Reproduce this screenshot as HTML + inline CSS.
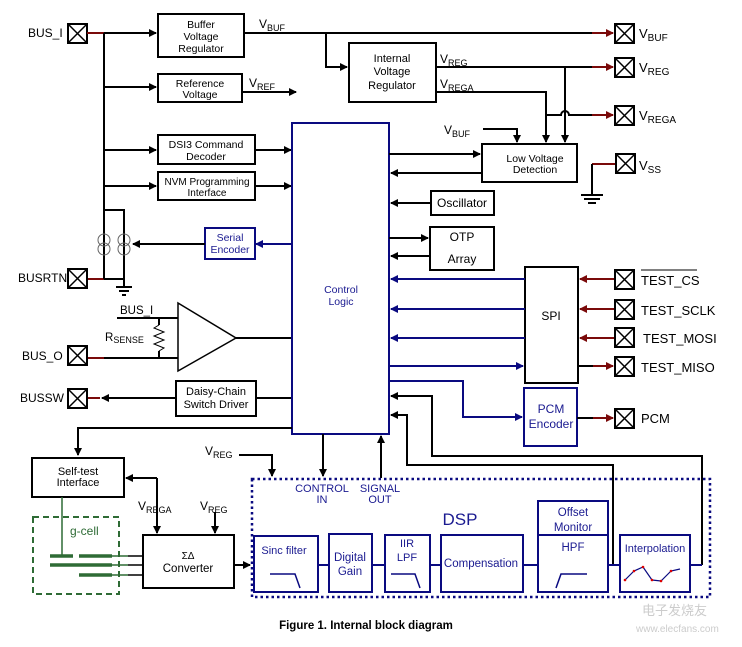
<!DOCTYPE html>
<html><head><meta charset="utf-8"><style>
body{margin:0;background:#fff}
svg{display:block;font-family:"Liberation Sans",Arial,sans-serif}
.k{stroke:#000;stroke-width:2;fill:none}
.b{stroke:#0a0a80;stroke-width:2;fill:none}
.r{stroke:#7a0a0a;stroke-width:2;fill:none}
.bx{stroke:#000;stroke-width:2;fill:#fff}
.bb{stroke:#0a0a80;stroke-width:2;fill:#fff}
.bt{fill:#1a1a90}
</style></head><body>
<svg width="742" height="647" viewBox="0 0 742 647" font-size="11">
<defs>
<marker id="ak" markerWidth="8" markerHeight="8" refX="7" refY="4" orient="auto" markerUnits="userSpaceOnUse"><path d="M0,0L8,4L0,8z" fill="#000"/></marker>
<marker id="ab" markerWidth="8" markerHeight="8" refX="7" refY="4" orient="auto" markerUnits="userSpaceOnUse"><path d="M0,0L8,4L0,8z" fill="#0a0a80"/></marker>
<marker id="ar" markerWidth="8" markerHeight="8" refX="7" refY="4" orient="auto" markerUnits="userSpaceOnUse"><path d="M0,0L8,4L0,8z" fill="#7a0a0a"/></marker>
<g id="pad"><rect x="0" y="0" width="19" height="19" fill="#fff" stroke="#000" stroke-width="2"/><path d="M0,0L19,19M19,0L0,19" stroke="#000" stroke-width="1.5"/></g>
</defs>

<use href="#pad" x="68" y="24"/><text x="28" y="37" font-size="12">BUS_I</text>
<use href="#pad" x="68" y="269"/><text x="18" y="282" font-size="12">BUSRTN</text>
<use href="#pad" x="68" y="346"/><text x="22" y="360" font-size="12">BUS_O</text>
<use href="#pad" x="68" y="389"/><text x="20" y="402" font-size="12">BUSSW</text>
<path class="r" d="M87,33H104M88,279H104M88,358H104M88,398H100"/>
<path class="k" d="M104,33V279M104,33H156" marker-end="url(#ak)"/>
<path class="k" d="M104,87H156" marker-end="url(#ak)"/>
<path class="k" d="M104,150H156" marker-end="url(#ak)"/>
<path class="k" d="M104,186H156" marker-end="url(#ak)"/>
<path class="k" d="M104,210H124V287M104,279H124"/>
<path class="k" d="M116,287H132M119,291H129M122,295H126"/>
<g stroke="#666" stroke-width="1" fill="none"><circle cx="104" cy="240" r="6"/><circle cx="104" cy="249" r="6"/><circle cx="124" cy="240" r="6"/><circle cx="124" cy="249" r="6"/></g>

<rect class="bx" x="158" y="14" width="86" height="43"/>
<text x="201" y="28" text-anchor="middle" font-size="10.5">Buffer</text><text x="201" y="40" text-anchor="middle" font-size="10.5">Voltage</text><text x="201" y="52" text-anchor="middle" font-size="10.5">Regulator</text>
<rect class="bx" x="158" y="74" width="84" height="28"/>
<text x="200" y="87" text-anchor="middle" font-size="10.5">Reference</text><text x="200" y="98" text-anchor="middle" font-size="10.5">Voltage</text>
<path class="k" d="M242,92H296" marker-end="url(#ak)"/><text x="249" y="87" font-size="12">V<tspan font-size="9" dy="3">REF</tspan></text>
<rect class="bx" x="158" y="135" width="97" height="29"/>
<text x="206" y="148" text-anchor="middle" font-size="10.5">DSI3 Command</text><text x="206" y="160" text-anchor="middle" font-size="10.5">Decoder</text>
<rect class="bx" x="158" y="172" width="97" height="28"/>
<text x="207" y="185" text-anchor="middle" font-size="10">NVM Programming</text><text x="207" y="196" text-anchor="middle" font-size="10">Interface</text>
<path class="k" d="M255,150H291" marker-end="url(#ak)"/>
<path class="k" d="M255,186H291" marker-end="url(#ak)"/>
<rect class="bb" x="205" y="228" width="50" height="31"/>
<text x="230" y="241" text-anchor="middle" class="bt" font-size="10.5">Serial</text><text x="230" y="253" text-anchor="middle" class="bt" font-size="10.5">Encoder</text>
<path class="b" d="M292,244H256" marker-end="url(#ab)"/>
<path class="k" d="M205,244H133" marker-end="url(#ak)"/>

<path class="k" d="M117,318H178M104,358H178M159,318V325M159,351V358" />
<path d="M159,325l-5,3l10,4l-10,4l10,4l-10,4l10,4l-5,3" stroke="#000" stroke-width="1" fill="none"/>
<path d="M178,303L236,338L178,371Z" fill="#fff" stroke="#000" stroke-width="1.5"/>
<path class="k" d="M236,338H292"/>
<text x="120" y="314" font-size="11.5">BUS_I</text>
<text x="105" y="341" font-size="11.5">R<tspan font-size="9" dy="2">SENSE</tspan></text>

<rect class="bx" x="176" y="381" width="80" height="35"/>
<text x="216" y="395" text-anchor="middle" font-size="11">Daisy-Chain</text><text x="216" y="408" text-anchor="middle" font-size="11">Switch Driver</text>
<path class="k" d="M292,398H256M176,398H102" marker-end="url(#ak)"/>

<rect class="bb" x="292" y="123" width="97" height="311"/>
<text x="341" y="293" text-anchor="middle" class="bt" font-size="10.5">Control</text><text x="341" y="305" text-anchor="middle" class="bt" font-size="10.5">Logic</text>

<path class="k" d="M244,33H594M326,33V67H347" marker-end="url(#ak)"/>
<path class="r" d="M592,33H613" marker-end="url(#ar)"/>
<text x="259" y="28" font-size="12">V<tspan font-size="9" dy="3">BUF</tspan></text>
<rect class="bx" x="349" y="43" width="87" height="59"/>
<text x="392" y="62" text-anchor="middle" font-size="11">Internal</text><text x="392" y="75" text-anchor="middle" font-size="11">Voltage</text><text x="392" y="89" text-anchor="middle" font-size="11">Regulator</text>
<path class="k" d="M436,67H594M565,67V142" marker-end="url(#ak)"/>
<path class="r" d="M592,67H613" marker-end="url(#ar)"/>
<text x="440" y="63" font-size="12">V<tspan font-size="9" dy="3">REG</tspan></text>
<path class="k" d="M436,92H546V142" marker-end="url(#ak)"/>
<text x="440" y="88" font-size="12">V<tspan font-size="9" dy="3">REGA</tspan></text>
<path class="k" d="M546,115H561a4,4 0 0 1 8,0H594"/>
<path class="r" d="M592,115H613" marker-end="url(#ar)"/>
<use href="#pad" x="615" y="24"/><text x="639" y="38" font-size="13">V<tspan font-size="10" dy="3">BUF</tspan></text>
<use href="#pad" x="615" y="58"/><text x="639" y="72" font-size="13">V<tspan font-size="10" dy="3">REG</tspan></text>
<use href="#pad" x="615" y="106"/><text x="639" y="120" font-size="13">V<tspan font-size="10" dy="3">REGA</tspan></text>
<path class="k" d="M483,129H517V142" marker-end="url(#ak)"/>
<text x="444" y="134" font-size="12">V<tspan font-size="9" dy="3">BUF</tspan></text>
<rect class="bx" x="482" y="144" width="95" height="38"/>
<text x="535" y="162" text-anchor="middle" font-size="10.5">Low Voltage</text><text x="535" y="173" text-anchor="middle" font-size="10.5">Detection</text>
<path class="k" d="M389,154H480" marker-end="url(#ak)"/>
<path class="k" d="M482,173H391" marker-end="url(#ak)"/>
<use href="#pad" x="616" y="154"/><text x="639" y="170" font-size="13">V<tspan font-size="10" dy="3">SS</tspan></text>
<path class="r" d="M615,164H592"/><path class="k" d="M592,164V195M581,195H603M584,199H600M588,203H596"/>
<rect class="bx" x="431" y="191" width="63" height="24"/><text x="462" y="207" text-anchor="middle" font-size="12">Oscillator</text>
<path class="k" d="M431,203H391" marker-end="url(#ak)"/>
<rect class="bx" x="430" y="227" width="64" height="43"/><text x="462" y="241" text-anchor="middle" font-size="12">OTP</text><text x="462" y="263" text-anchor="middle" font-size="12">Array</text>
<path class="k" d="M389,238H428" marker-end="url(#ak)"/>
<path class="k" d="M430,256H391" marker-end="url(#ak)"/>

<rect class="bx" x="525" y="267" width="53" height="116"/><text x="551" y="320" text-anchor="middle" font-size="12">SPI</text>
<path class="b" d="M525,279H391" marker-end="url(#ab)"/>
<path class="b" d="M525,309H391" marker-end="url(#ab)"/>
<path class="b" d="M525,338H391" marker-end="url(#ab)"/>
<path class="b" d="M389,366H523" marker-end="url(#ab)"/>
<path class="r" d="M615,279H580" marker-end="url(#ar)"/>
<path class="r" d="M615,309H580" marker-end="url(#ar)"/>
<path class="r" d="M615,338H580" marker-end="url(#ar)"/>
<path class="k" d="M578,366H595"/><path class="r" d="M593,366H613" marker-end="url(#ar)"/>
<use href="#pad" x="615" y="270"/><text x="641" y="285" font-size="13">TEST_CS</text><path d="M641,270H697" stroke="#000" stroke-width="1"/>
<use href="#pad" x="615" y="300"/><text x="641" y="315" font-size="13">TEST_SCLK</text>
<use href="#pad" x="615" y="328"/><text x="643" y="343" font-size="13">TEST_MOSI</text>
<use href="#pad" x="615" y="357"/><text x="641" y="372" font-size="13">TEST_MISO</text>
<path class="b" d="M389,381H463V417H522" marker-end="url(#ab)"/>
<rect class="bb" x="524" y="388" width="53" height="58"/>
<text x="551" y="413" text-anchor="middle" class="bt" font-size="12">PCM</text><text x="551" y="428" text-anchor="middle" class="bt" font-size="12">Encoder</text>
<path class="k" d="M577,418H595"/><path class="r" d="M593,418H613" marker-end="url(#ar)"/>
<use href="#pad" x="615" y="409"/><text x="641" y="423" font-size="13">PCM</text>
<path class="k" d="M613,565V465H407V415H391" marker-end="url(#ak)"/>
<path class="k" d="M702,565V456H432V396H391" marker-end="url(#ak)"/>
<path class="k" d="M292,428H78V455" marker-end="url(#ak)"/>
<path class="k" d="M323,434V476" marker-end="url(#ak)"/>
<path class="k" d="M381,478V436" marker-end="url(#ak)"/>
<path class="k" d="M239,455H272V476" marker-end="url(#ak)"/>
<text x="205" y="455" font-size="12">V<tspan font-size="9" dy="3">REG</tspan></text>

<rect class="bx" x="32" y="458" width="92" height="39"/>
<text x="78" y="475" text-anchor="middle" font-size="11">Self-test</text><text x="78" y="486" text-anchor="middle" font-size="11">Interface</text>
<path class="k" d="M157,478H126" marker-end="url(#ak)"/>
<path class="k" d="M157,478V533" marker-end="url(#ak)"/>
<text x="138" y="510" font-size="12">V<tspan font-size="9" dy="3">REGA</tspan></text>
<path class="k" d="M215,512V533" marker-end="url(#ak)"/>
<text x="200" y="510" font-size="12">V<tspan font-size="9" dy="3">REG</tspan></text>
<rect class="bx" x="143" y="535" width="91" height="53"/>
<text x="188" y="559" text-anchor="middle" font-size="10">ΣΔ</text><text x="188" y="572" text-anchor="middle" font-size="11.5">Converter</text>
<path class="k" d="M234,565H250" marker-end="url(#ak)"/>
<rect x="33" y="517" width="86" height="77" fill="none" stroke="#2e6b35" stroke-width="2" stroke-dasharray="6,4"/>
<text x="70" y="535" fill="#2e6b35" font-size="12">g-cell</text>
<path d="M62,497V556" stroke="#2e6b35" stroke-width="1.5"/>
<path d="M50,556H73M79,556H112M50,565H112M79,575H112" stroke="#2e6b35" stroke-width="3.5"/>
<path d="M112,556H128M112,565H128M112,575H128" stroke="#2e6b35" stroke-width="1.5"/>
<path d="M128,556H143M128,565H143M128,575H143" stroke="#000" stroke-width="1.5"/>

<rect x="252" y="479" width="458" height="118" fill="none" stroke="#0a0a80" stroke-width="2.5" stroke-dasharray="2.5,3"/>
<text x="322" y="492" text-anchor="middle" class="bt" font-size="11">CONTROL</text><text x="322" y="503" text-anchor="middle" class="bt" font-size="11">IN</text>
<text x="380" y="492" text-anchor="middle" class="bt" font-size="11">SIGNAL</text><text x="380" y="503" text-anchor="middle" class="bt" font-size="11">OUT</text>
<text x="460" y="525" text-anchor="middle" class="bt" font-size="17">DSP</text>
<path class="b" d="M318,565H441M523,565H538M608,565H620M690,565H702"/>
<rect class="bb" x="254" y="536" width="64" height="56"/><text x="284" y="554" text-anchor="middle" class="bt" font-size="11">Sinc filter</text>
<path d="M270,574H295L300,588" stroke="#0a0a80" stroke-width="1.5" fill="none"/>
<rect class="bb" x="329" y="534" width="43" height="58"/><text x="350" y="561" text-anchor="middle" class="bt" font-size="11.5">Digital</text><text x="350" y="575" text-anchor="middle" class="bt" font-size="11.5">Gain</text>
<rect class="bb" x="385" y="535" width="45" height="57"/><text x="407" y="547" text-anchor="middle" class="bt" font-size="11">IIR</text><text x="407" y="561" text-anchor="middle" class="bt" font-size="11">LPF</text>
<path d="M391,574H415L420,588" stroke="#0a0a80" stroke-width="1.5" fill="none"/>
<rect class="bb" x="441" y="535" width="82" height="57"/><text x="481" y="567" text-anchor="middle" class="bt" font-size="11.5">Compensation</text>
<rect class="bb" x="538" y="501" width="70" height="91"/><path class="b" d="M538,535H608"/>
<text x="573" y="516" text-anchor="middle" class="bt" font-size="11.5">Offset</text><text x="573" y="531" text-anchor="middle" class="bt" font-size="11.5">Monitor</text>
<text x="573" y="551" text-anchor="middle" class="bt" font-size="11.5">HPF</text>
<path d="M556,588L561,574H587" stroke="#0a0a80" stroke-width="1.5" fill="none"/>
<rect class="bb" x="620" y="535" width="70" height="57"/><text x="655" y="552" text-anchor="middle" class="bt" font-size="11">Interpolation</text>
<path d="M625,580L634,571L643,567L652,580L661,581L671,571L680,569" stroke="#0a0a80" stroke-width="1.2" fill="none"/>
<g fill="#d00"><circle cx="625" cy="580" r="1.3"/><circle cx="634" cy="571" r="1.3"/><circle cx="643" cy="567" r="1.3"/><circle cx="652" cy="580" r="1.3"/><circle cx="661" cy="581" r="1.3"/><circle cx="671" cy="571" r="1.3"/></g>

<text x="366" y="629" text-anchor="middle" font-size="11.5" font-weight="bold">Figure 1. Internal block diagram</text>
<text x="642" y="615" fill="#ccc" font-size="13">电子发烧友</text>
<text x="636" y="632" fill="#ccc" font-size="10">www.elecfans.com</text>
</svg>
</body></html>
